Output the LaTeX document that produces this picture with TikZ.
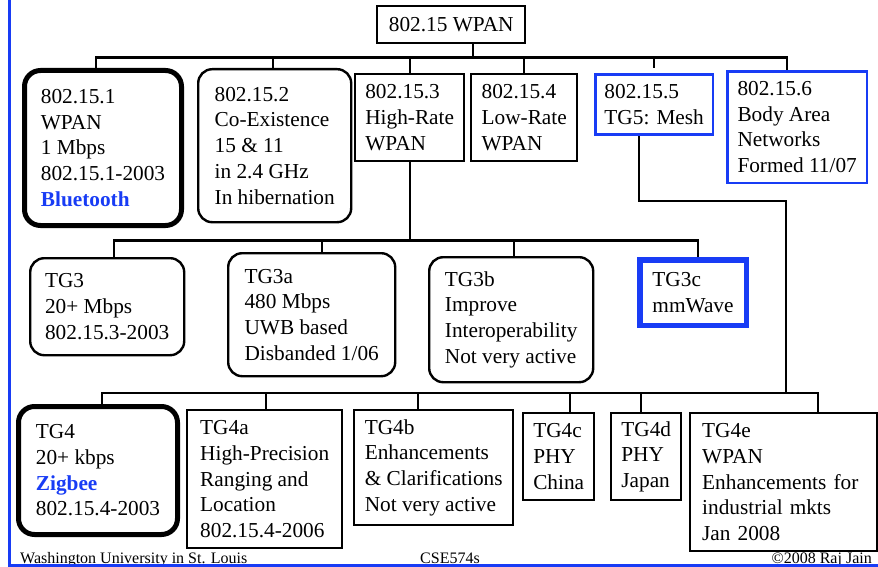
\documentclass[tikz,border=0pt]{standalone}
\usepackage{fontspec}
\setmainfont{Liberation Serif}
\usepackage{tikz}
\usepackage{xcolor}
\definecolor{C1}{RGB}{24,60,245}

\begin{document}
\begin{tikzpicture}[x=1pt, y=-1pt,
    box/.style={draw, line width=2.4pt, anchor=north west, align=left,
                font=\fontsize{21.3}{25.7}\selectfont},
    soft/.style={box, rounded corners=14pt},
    heavy/.style={soft, line width=5pt, rounded corners=16pt},
    bluebox/.style={box, draw=C1, line width=2.8pt},
    link/.style={line width=2.3pt},
    foot/.style={font=\fontsize{16}{18}\selectfont, anchor=base, inner sep=0pt}]
    \useasboundingbox (0,0) rectangle (878,567);

    \node[box, minimum width=148, minimum height=37] (wpan) at (376,5) {802.15 WPAN};

    \node[heavy, minimum width=157, minimum height=155] (s1) at (22,68)
        {802.15.1\\WPAN\\1 Mbps\\802.15.1-2003\\{\color{C1}\bfseries Bluetooth}};
    \node[soft, minimum width=153, minimum height=153] (s2) at (197,68)
        {802.15.2\\Co-Existence\\15 \& 11\\in 2.4 GHz\\In hibernation};
    \node[box, minimum width=109, minimum height=87] (s3) at (354,73)
        {802.15.3\\High-Rate\\WPAN};
    \node[box, minimum width=106, minimum height=87] (s4) at (470,73)
        {802.15.4\\Low-Rate\\WPAN};
    \node[bluebox, minimum width=117.5, minimum height=60.5] (s5) at (594,73)
        {802.15.5\\TG5: Mesh};
    \node[bluebox, minimum width=139.5, minimum height=111.5] (s6) at (726,70)
        {802.15.6\\Body Area\\Networks\\Formed 11/07};

    \node[soft, minimum width=154, minimum height=97] (tg3) at (29,257)
        {TG3\\20+ Mbps\\802.15.3-2003};
    \node[soft, minimum width=167, minimum height=123] (tg3a) at (227,252)
        {TG3a\\480 Mbps\\UWB based\\Disbanded 1/06};
    \node[soft, minimum width=164, minimum height=125] (tg3b) at (428,256)
        {TG3b\\Improve\\Interoperability\\Not very active};
    \node[bluebox, line width=5.5pt, minimum width=106.5, minimum height=65.5] (tg3c) at (637,257)
        {TG3c\\mmWave};

    \node[heavy, minimum width=159, minimum height=128] (tg4) at (16,404)
        {TG4\\20+ kbps\\{\color{C1}\bfseries Zigbee}\\802.15.4-2003};
    \node[box, minimum width=155, minimum height=138] (tg4a) at (186,409)
        {TG4a\\High-Precision\\Ranging and\\Location\\802.15.4-2006};
    \node[box, minimum width=159, minimum height=115] (tg4b) at (353,409)
        {TG4b\\Enhancements\\\& Clarifications\\Not very active};
    \node[box, minimum width=71, minimum height=87] (tg4c) at (522,412)
        {TG4c\\PHY\\China};
    \node[box, minimum width=70, minimum height=87] (tg4d) at (610,412)
        {TG4d\\PHY\\Japan};
    \node[box, text width=163pt, inner xsep=12pt, minimum height=138] (tg4e) at (689,412)
        {TG4e\\WPAN\\Enhancements for\\industrial mkts\\Jan 2008};

    \draw[link] ([xshift=22pt]wpan.south) -- ++(0,13) coordinate (busA);
    \foreach \n/\dx in {s1/-7, s2/-1.5, s3/0, s4/0, s6/-10}
        \draw[link] (busA) -| ([xshift=\dx pt]\n.north);
    \draw[link, shorten >=5pt] (busA) -| (s5.north);

    \draw[link] (s3.south) -- ++(0,78) coordinate (busC);
    \foreach \n/\dx in {tg3/7, tg3a/10.5, tg3b/3, tg3c/5}
        \draw[link] (busC) -| ([xshift=\dx pt]\n.north);

    \coordinate (busB) at (786,393);
    \draw[link] ([xshift=-15pt]s5.south) -- ++(0,65) -| (busB);
    \foreach \n/\dx in {tg4/4, tg4a/1.5, tg4b/-15.5, tg4c/11.5, tg4d/-5, tg4e/34.5}
        \draw[link] (busB) -| ([xshift=\dx pt]\n.north);

    \node[foot, anchor=base west] (univ) at (20,563) {Washington University in St. Louis};
    \node[foot] (course) at (450,563) {CSE574s};
    \node[foot, anchor=base east] (owner) at (872,563) {©2008 Raj Jain};

    \draw[C1, line width=2.5pt] (9.5,0) -- (9.5,565.5) -- (878,565.5);
\end{tikzpicture}
\end{document}
